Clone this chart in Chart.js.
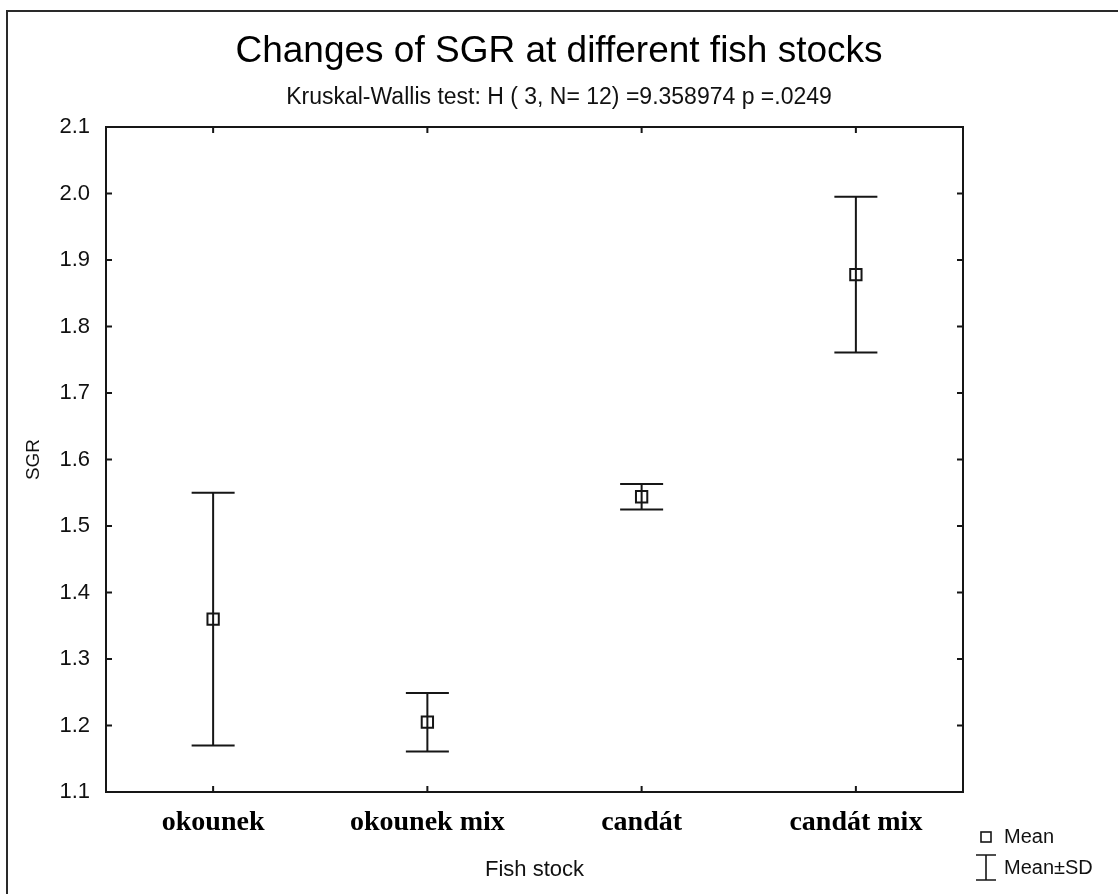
<!DOCTYPE html>
<html>
<head>
<meta charset="utf-8">
<title>Changes of SGR at different fish stocks</title>
<script src="https://cdn.jsdelivr.net/npm/chart.js@4.4.1/dist/chart.umd.min.js"></script>
<style>
  html, body { margin: 0; padding: 0; background: #ffffff; }
  canvas { display: block; }
</style>
</head>
<body>
<canvas id="sgrChart" width="1118" height="894"></canvas>
<script>
// Fish stock groups and their SGR summary statistics
const categories = ['okounek', 'okounek mix', 'candát', 'candát mix'];
const means = [1.360, 1.205, 1.544, 1.878];
const sds = [0.190, 0.044, 0.019, 0.117];
const yTicks = [1.1, 1.2, 1.3, 1.4, 1.5, 1.6, 1.7, 1.8, 1.9, 2.0, 2.1];

const INK = '#161616';
const SANS = '"Liberation Sans", Arial, sans-serif';
const SERIF = '"Liberation Serif", "Times New Roman", serif';

// Outer frame of the figure (left and top edges visible)
const outerFrame = {
  id: 'outerFrame',
  beforeDraw(chart) {
    const ctx = chart.ctx;
    ctx.save();
    ctx.strokeStyle = '#2a2a2a';
    ctx.lineWidth = 2;
    ctx.beginPath();
    ctx.moveTo(7, chart.height + 5);
    ctx.lineTo(7, 11);
    ctx.lineTo(chart.width + 5, 11);
    ctx.stroke();
    ctx.restore();
  }
};

// Mean ± SD whiskers, positioned with the chart's own scales
const errorBars = {
  id: 'errorBars',
  beforeDatasetsDraw(chart) {
    const { ctx, scales: { x, y } } = chart;
    const cap = 21.5;
    ctx.save();
    ctx.strokeStyle = INK;
    ctx.lineWidth = 2;
    means.forEach((m, i) => {
      const px = x.getPixelForValue(i);
      const top = y.getPixelForValue(m + sds[i]);
      const bot = y.getPixelForValue(m - sds[i]);
      ctx.beginPath();
      ctx.moveTo(px, top);
      ctx.lineTo(px, bot);
      ctx.moveTo(px - cap, top);
      ctx.lineTo(px + cap, top);
      ctx.moveTo(px - cap, bot);
      ctx.lineTo(px + cap, bot);
      ctx.stroke();
    });
    ctx.restore();
  }
};

// Box around the plot area with inward-pointing ticks on all four sides
const plotBox = {
  id: 'plotBox',
  afterDraw(chart) {
    const { ctx, chartArea: a, scales: { x, y } } = chart;
    const len = 6;
    ctx.save();
    ctx.strokeStyle = INK;
    ctx.lineWidth = 2;
    ctx.strokeRect(a.left, a.top, a.right - a.left, a.bottom - a.top);
    ctx.beginPath();
    y.ticks.forEach(t => {
      const py = y.getPixelForValue(t.value);
      ctx.moveTo(a.left, py); ctx.lineTo(a.left + len, py);
      ctx.moveTo(a.right, py); ctx.lineTo(a.right - len, py);
    });
    categories.forEach((c, i) => {
      const px = x.getPixelForValue(i);
      ctx.moveTo(px, a.bottom); ctx.lineTo(px, a.bottom - len);
      ctx.moveTo(px, a.top); ctx.lineTo(px, a.top + len);
    });
    ctx.stroke();
    ctx.restore();
  }
};

// Key for the marker and whisker symbols, below the plot on the right
const symbolKey = {
  id: 'symbolKey',
  afterDraw(chart) {
    const ctx = chart.ctx;
    const a = chart.chartArea;
    const sx = a.right + 23;
    const tx = a.right + 41;
    const y1 = 837, y2 = 868;
    ctx.save();
    ctx.strokeStyle = INK;
    ctx.lineWidth = 1.6;
    ctx.strokeRect(sx - 5, y1 - 5, 10, 10);
    ctx.beginPath();
    ctx.moveTo(sx, 855); ctx.lineTo(sx, 880);
    ctx.moveTo(sx - 10, 855); ctx.lineTo(sx + 10, 855);
    ctx.moveTo(sx - 10, 880); ctx.lineTo(sx + 10, 880);
    ctx.stroke();
    ctx.fillStyle = '#111';
    ctx.font = '20px ' + SANS;
    ctx.textAlign = 'left';
    ctx.textBaseline = 'middle';
    ctx.fillText('Mean', tx, y1);
    ctx.fillText('Mean±SD', tx, y2);
    ctx.restore();
  }
};

new Chart(document.getElementById('sgrChart'), {
  type: 'line',
  data: {
    labels: categories,
    datasets: [{
      label: 'Mean',
      data: means,
      showLine: false,
      pointStyle: 'rect',
      pointRadius: 8,
      pointHoverRadius: 8,
      pointBorderWidth: 2,
      borderColor: INK,
      backgroundColor: 'rgba(0,0,0,0)'
    }]
  },
  options: {
    responsive: false,
    animation: false,
    events: [],
    layout: { padding: 0 },
    plugins: {
      legend: { display: false },
      tooltip: { enabled: false },
      title: {
        display: true,
        text: 'Changes of SGR at different fish stocks',
        color: '#000',
        font: { family: SANS, size: 37, weight: 'normal' },
        padding: { top: 30, bottom: 0 }
      },
      subtitle: {
        display: true,
        text: 'Kruskal-Wallis test: H ( 3, N= 12) =9.358974 p =.0249',
        color: '#111',
        font: { family: SANS, size: 23, weight: 'normal' },
        padding: { top: 9, bottom: 16 }
      }
    },
    scales: {
      x: {
        type: 'category',
        offset: true,
        grid: { display: false, drawTicks: false },
        border: { display: false },
        ticks: {
          color: '#000',
          padding: 14,
          maxRotation: 0,
          font: { family: SERIF, size: 28, weight: 'bold' }
        },
        title: {
          display: true,
          text: 'Fish stock',
          color: '#111',
          font: { family: SANS, size: 22, weight: 'normal' },
          padding: { top: 0, bottom: 11 }
        },
        afterFit(s) { s.height = 102; }
      },
      y: {
        type: 'linear',
        min: 1.1,
        max: 2.1,
        grid: { display: false, drawTicks: false },
        border: { display: false },
        afterBuildTicks(s) { s.ticks = yTicks.map(v => ({ value: v })); },
        ticks: {
          color: '#111',
          padding: 16,
          font: { family: SANS, size: 22 },
          callback: v => Number(v).toFixed(1)
        },
        title: {
          display: true,
          text: 'SGR',
          color: '#111',
          font: { family: SANS, size: 19, weight: 'normal' },
          padding: { top: 22, bottom: 0 }
        },
        afterFit(s) { s.width = 106; }
      },
      keySpace: {
        type: 'linear',
        position: 'right',
        display: true,
        grid: { display: false, drawTicks: false },
        border: { display: false },
        ticks: { display: false },
        afterFit(s) { s.width = 155; }
      }
    }
  },
  plugins: [outerFrame, errorBars, plotBox, symbolKey]
});
</script>
</body>
</html>
